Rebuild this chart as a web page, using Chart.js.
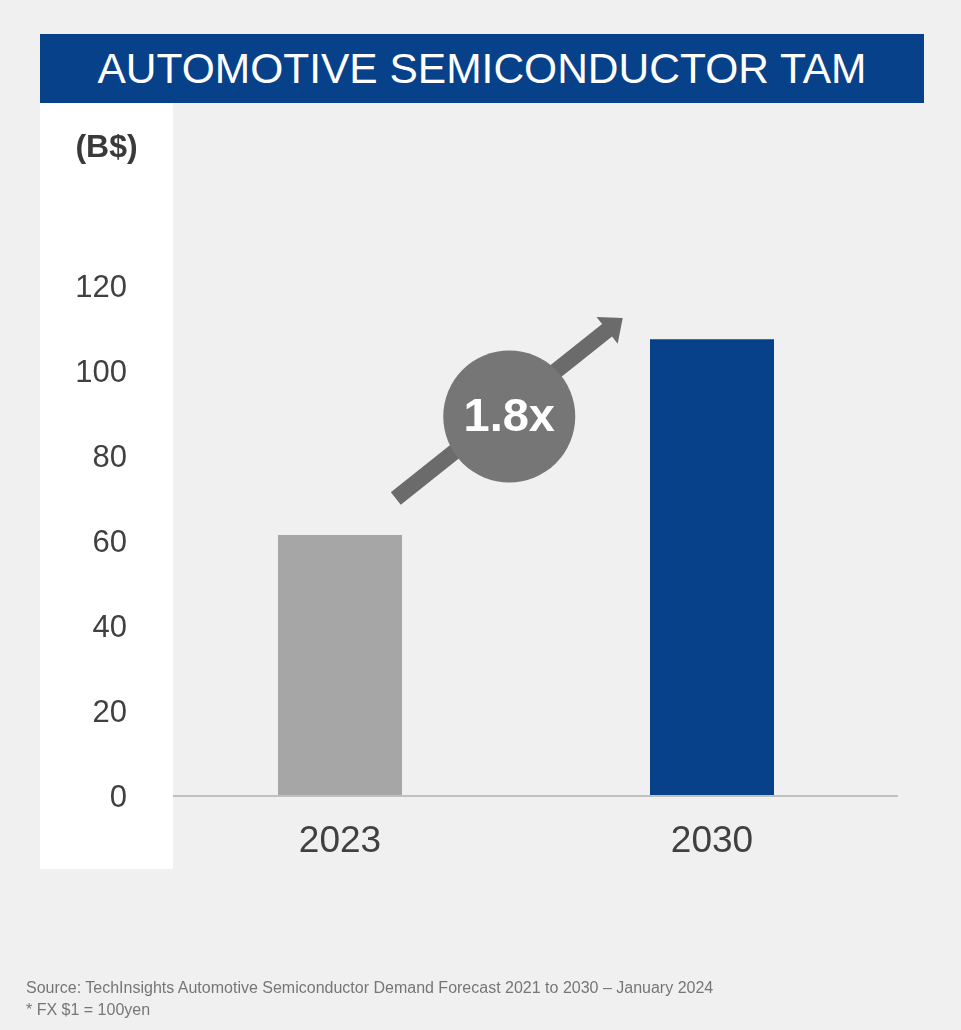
<!DOCTYPE html>
<html>
<head>
<meta charset="utf-8">
<title>Automotive Semiconductor TAM</title>
<script src="https://cdn.jsdelivr.net/npm/chart.js@4.4.1/dist/chart.umd.min.js"></script>
<style>
	html, body { margin: 0; padding: 0; background: #f0f0f0; overflow: hidden; }
	#wrap { position: relative; width: 961px; height: 1030px; font-family: "Liberation Sans", Arial, sans-serif; }
	#chart { position: absolute; left: 0; top: 0; }
	.tit { position: absolute; left: 40px; top: 34px; width: 884px; height: 69px; background: #07418a; color: #fff;
		font-size: 42.5px; line-height: 70px; text-align: center; z-index: 2; }
	.unit { position: absolute; left: 40px; top: 126px; width: 133px; text-align: center; font-size: 32px; font-weight: bold;
		color: #3a3a3a; line-height: 40px; z-index: 2; }
	.note { position: absolute; left: 26px; font-size: 16px; color: #767676; line-height: 20px; z-index: 2; }
</style>
</head>
<body>
<div id="wrap">
	<div class="tit">AUTOMOTIVE SEMICONDUCTOR TAM</div>
	<div class="unit">(B$)</div>
	<canvas id="chart" width="961" height="1030"></canvas>
	<div class="note" style="top:978px;">Source: TechInsights Automotive Semiconductor Demand Forecast 2021 to 2030 – January 2024</div>
	<div class="note" style="top:1000px;">* FX $1 = 100yen</div>
</div>
<script>
// data
var categories = ["2023", "2030"];
var tamValues = [61.4, 107.5];
var barColors = ["#a6a6a6", "#07418a"];
var yMax = 120;
var yStep = 20;
var growthLabel = "1.8x";

// arrow + badge (category index, value)
var arrowFrom = [0.15, 70];
var arrowTo = [0.76, 112.5];
var badgeAt = [0.455, 89.3];

var panel = { left: 40, top: 103, right: 173, bottom: 869 }; // white box behind y axis

var decoPlugin = {
	id: "deco",
	beforeDraw: function(chart) {
		var c = chart.ctx;
		c.save();
		c.fillStyle = "#ffffff";
		c.fillRect(panel.left, panel.top, panel.right - panel.left, panel.bottom - panel.top);
		c.restore();
	},
	afterDatasetsDraw: function(chart) {
		var c = chart.ctx;
		var xs = chart.scales.x;
		var ys = chart.scales.y;
		var area = chart.chartArea;
		c.save();
		// base line
		c.strokeStyle = "#c0c0c0";
		c.lineWidth = 2;
		c.beginPath();
		c.moveTo(panel.right, ys.getPixelForValue(0));
		c.lineTo(area.right, ys.getPixelForValue(0));
		c.stroke();

		// arrow
		var x1 = xs.getPixelForValue(arrowFrom[0]), y1 = ys.getPixelForValue(arrowFrom[1]);
		var x2 = xs.getPixelForValue(arrowTo[0]), y2 = ys.getPixelForValue(arrowTo[1]);
		var ang = Math.atan2(y2 - y1, x2 - x1);
		var headLen = 20, headW = 17, shaft = 8;
		var len = Math.sqrt((x2 - x1) * (x2 - x1) + (y2 - y1) * (y2 - y1));
		c.translate(x1, y1);
		c.rotate(ang);
		c.fillStyle = "#6b6b6b";
		c.beginPath();
		c.moveTo(0, -shaft);
		c.lineTo(len - headLen, -shaft);
		c.lineTo(len - headLen, -headW);
		c.lineTo(len, 0);
		c.lineTo(len - headLen, headW);
		c.lineTo(len - headLen, shaft);
		c.lineTo(0, shaft);
		c.closePath();
		c.fill();
		c.setTransform(1, 0, 0, 1, 0, 0);

		// badge
		var bx = xs.getPixelForValue(badgeAt[0]), by = ys.getPixelForValue(badgeAt[1]);
		c.fillStyle = "#767676";
		c.beginPath();
		c.arc(bx, by, 66, 0, Math.PI * 2);
		c.fill();
		c.fillStyle = "#ffffff";
		c.font = "bold 47px 'Liberation Sans', Arial, sans-serif";
		c.textAlign = "center";
		c.textBaseline = "middle";
		c.fillText(growthLabel, bx, by + 2);
		c.restore();
	}
};

var chart = new Chart(document.getElementById("chart"), {
	type: "bar",
	data: {
		labels: categories,
		datasets: [{
			data: tamValues,
			backgroundColor: barColors,
			borderWidth: 0,
			categoryPercentage: 1,
			barPercentage: 0.3334
		}]
	},
	options: {
		responsive: false,
		animation: false,
		layout: {
			padding: { left: 0, right: 63, top: 286, bottom: 134 }
		},
		plugins: {
			legend: { display: false },
			tooltip: { enabled: false }
		},
		scales: {
			x: {
				grid: { display: false, drawTicks: false },
				border: { display: false },
				ticks: {
					color: "#404040",
					padding: 24,
					font: { family: "'Liberation Sans', Arial, sans-serif", size: 37 }
				},
				afterFit: function(s) { s.height = 100; }
			},
			y: {
				min: 0,
				max: yMax,
				grid: { display: false, drawTicks: false },
				border: { display: false },
				ticks: {
					stepSize: yStep,
					color: "#404040",
					padding: 27,
					labelOffset: 2,
					font: { family: "'Liberation Sans', Arial, sans-serif", size: 31 }
				},
				afterFit: function(s) { s.width = 154; }
			}
		}
	},
	plugins: [decoPlugin]
});
</script>
</body>
</html>
